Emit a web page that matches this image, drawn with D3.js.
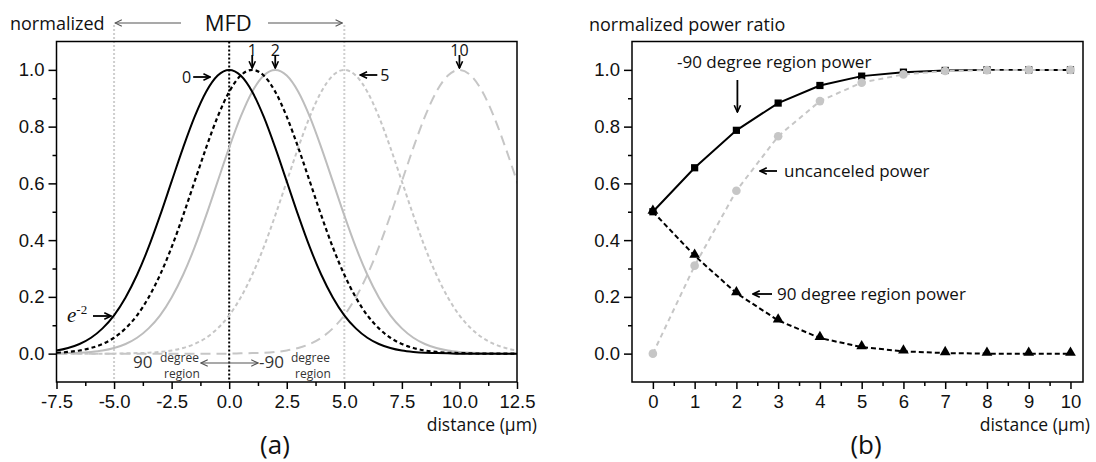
<!DOCTYPE html>
<html><head><meta charset="utf-8">
<script src="https://cdn.jsdelivr.net/npm/d3@7"></script>
<style>body{margin:0;background:#fff}svg{display:block}</style>
</head><body>
<script>
// ---------- DATA (a): normalized mode profile ----------
const profileOffsets = [-10,-9.5,-9,-8.5,-8,-7.5,-7,-6.5,-6,-5.5,-5,-4.5,-4,-3.5,-3,-2.5,-2,-1.5,-1,-0.5,0,0.5,1,1.5,2,2.5,3,3.5,4,4.5,5,5.5,6,6.5,7,7.5,8,8.5,9,9.5,10];
const profileValues  = [0.000,0.001,0.002,0.003,0.006,0.011,0.020,0.034,0.056,0.089,0.135,0.198,0.278,0.375,0.487,0.607,0.726,0.835,0.923,0.980,1.000,0.980,0.923,0.835,0.726,0.607,0.487,0.375,0.278,0.198,0.135,0.089,0.056,0.034,0.020,0.011,0.006,0.003,0.002,0.001,0.000];
const curveCenters = [0, 1, 2, 5, 10];
const curveLabels  = ["0", "1", "2", "5", "10"];
const mfdBounds = [-5, 5];
const leftXTicks = [-7.5,-5,-2.5,0,2.5,5,7.5,10,12.5];
const leftXMinor = [-6.25,-3.75,-1.25,1.25,3.75,6.25,8.75,11.25];
const yTicks = [0,0.2,0.4,0.6,0.8,1.0];
const yMinor = [0.1,0.3,0.5,0.7,0.9];

// ---------- DATA (b): power ratios ----------
const distance = [0,1,2,3,4,5,6,7,8,9,10];
const minus90Power    = [0.500,0.655,0.787,0.883,0.945,0.978,0.992,0.998,1.000,1.000,1.000];
const plus90Power     = [0.500,0.345,0.213,0.117,0.055,0.023,0.008,0.002,0.000,0.000,0.000];
const uncanceledPower = [0.000,0.310,0.574,0.766,0.890,0.955,0.984,0.996,0.999,1.000,1.000];
const rightXTicks = [0,1,2,3,4,5,6,7,8,9,10];
const rightXMinor = [0.5,1.5,2.5,3.5,4.5,5.5,6.5,7.5,8.5,9.5];

// ---------- styles ----------
const curveStyles = [
  {stroke:"#000", dash:null, w:2},
  {stroke:"#000", dash:"4,3", w:2.2},
  {stroke:"#bdbdbd", dash:null, w:2},
  {stroke:"#c6c6c6", dash:"4,3", w:2},
  {stroke:"#c6c6c6", dash:"10,6", w:2}
];
const TXT = "'Open Sans', 'Noto Sans', sans-serif";
const NUM = "'Liberation Sans', Arial, sans-serif";
const fmt1 = d => d3.format(".1f")(d).replace("\u2212", "-");
const fmt0 = d => String(d);

const W = 1096, H = 462;
const svg = d3.select("body").append("svg").attr("width", W).attr("height", H);
svg.append("rect").attr("width", W).attr("height", H).attr("fill", "#fff");

const defs = svg.append("defs");
function mk(id, color, sw){
  defs.append("marker").attr("id", id).attr("viewBox","0 0 10 10").attr("refX",9).attr("refY",5)
    .attr("markerWidth",9).attr("markerHeight",9).attr("markerUnits","userSpaceOnUse")
    .attr("orient","auto-start-reverse")
    .append("path").attr("d","M1.5,1.5 L9,5 L1.5,8.5").attr("fill","none")
    .attr("stroke",color).attr("stroke-width",sw);
}
mk("ab","#000",1.8); mk("ag","#555",1.2);

// ---------- scales ----------
const PT = 41.5, PB = 382;
const xL = d3.scaleLinear().domain([-7.5,12.5]).range([56.5,517]);
const yL = d3.scaleLinear().domain([-0.1,1.1]).range([PB,PT]);
const xR = d3.scaleLinear().domain([-0.5,10.3]).range([632,1083]);
const yR = d3.scaleLinear().domain([-0.1,1.1]).range([PB,PT]);

function drawAxes(g, x, y, xt, xm, fmtX){
  const [x0,x1] = x.range();
  const ax = g.append("g").attr("transform",`translate(0,${PB})`)
    .call(d3.axisBottom(x).tickValues(xt).tickSize(7).tickPadding(6).tickFormat(fmtX));
  const axm = g.append("g").attr("transform",`translate(0,${PB})`)
    .call(d3.axisBottom(x).tickValues(xm).tickSize(4).tickFormat(""));
  const ay = g.append("g").attr("transform",`translate(${x0},0)`)
    .call(d3.axisLeft(y).tickValues(yTicks).tickSize(8).tickPadding(4).tickFormat(fmt1));
  const aym = g.append("g").attr("transform",`translate(${x0},0)`)
    .call(d3.axisLeft(y).tickValues(yMinor).tickSize(4).tickFormat(""));
  [ax,axm,ay,aym].forEach(a=>{
    a.select(".domain").remove();
    a.selectAll("line").attr("stroke","#000").attr("stroke-width",1.5);
    a.selectAll("text").attr("font-family",NUM).attr("font-size",18.5).attr("fill","#111");
  });
  g.append("rect").attr("x",x0).attr("y",PT).attr("width",x1-x0).attr("height",PB-PT)
    .attr("fill","none").attr("stroke","#000").attr("stroke-width",1.5);
}

// ================= PANEL (a) =================
const ga = svg.append("g");
defs.append("clipPath").attr("id","clipA").append("rect")
  .attr("x",xL(-7.5)).attr("y",PT).attr("width",xL(12.5)-xL(-7.5)).attr("height",PB-PT);

// MFD dotted guides
mfdBounds.forEach(b=>{
  ga.append("line").attr("x1",xL(b)).attr("x2",xL(b)).attr("y1",25).attr("y2",PB)
    .attr("stroke","#cfcfcf").attr("stroke-width",2).attr("stroke-dasharray","2,2");
});
// center dotted line
ga.append("line").attr("x1",xL(0)).attr("x2",xL(0)).attr("y1",PT).attr("y2",PB)
  .attr("stroke","#000").attr("stroke-width",2).attr("stroke-dasharray","2,2");

const lineA = d3.line().x(d=>xL(d[0])).y(d=>yL(d[1])).curve(d3.curveMonotoneX);
const curvesG = ga.append("g").attr("clip-path","url(#clipA)");
curveCenters.slice().reverse().forEach((c, ri)=>{
  const i = curveCenters.length-1-ri;
  let pts = profileOffsets.map((o,k)=>[c+o, profileValues[k]]);
  if (pts[0][0] > -7.5) pts.unshift([-7.5, 0]);
  if (pts[pts.length-1][0] < 12.5) pts.push([12.5, 0]);
  const s = curveStyles[i];
  curvesG.append("path").attr("d", lineA(pts)).attr("fill","none")
    .attr("stroke", s.stroke).attr("stroke-width", s.w)
    .attr("stroke-dasharray", s.dash);
});

drawAxes(ga, xL, yL, leftXTicks, leftXMinor, fmt1);

// top annotations
ga.append("text").attr("x",10).attr("y",30).text("normalized")
  .attr("font-family",TXT).attr("font-size",18).attr("fill","#111");
ga.append("text").attr("x",(xL(-5)+xL(5))/2 - 1).attr("y",31).attr("text-anchor","middle").text("MFD")
  .attr("font-family",TXT).attr("font-size",22).attr("fill","#111");
ga.append("line").attr("x1",181).attr("x2",xL(-5)+1).attr("y1",23).attr("y2",23)
  .attr("stroke","#555").attr("stroke-width",1.2).attr("marker-end","url(#ag)");
ga.append("line").attr("x1",268).attr("x2",xL(5)-2).attr("y1",23).attr("y2",23)
  .attr("stroke","#555").attr("stroke-width",1.2).attr("marker-end","url(#ag)");

// curve labels
function lbl(g, x, y, t, anchor, size){
  g.append("text").attr("x",x).attr("y",y).attr("text-anchor",anchor||"middle").text(t)
    .attr("font-family",TXT).attr("font-size",size||16).attr("fill","#111");
}
function arr(g, x1, y1, x2, y2, grey){
  g.append("line").attr("x1",x1).attr("y1",y1).attr("x2",x2).attr("y2",y2)
    .attr("stroke", grey ? "#555" : "#000").attr("stroke-width", grey ? 1.2 : 1.8)
    .attr("marker-end", grey ? "url(#ag)" : "url(#ab)");
}
// "0 →"
lbl(ga, xL(0)-38, 83, curveLabels[0], "end");
arr(ga, xL(0)-36, 77, xL(0)-19, 77);
// "1", "2", "10" with down arrows
[1,2,4].forEach(i=>{
  const c = curveCenters[i];
  lbl(ga, xL(c), 56, curveLabels[i]);
  arr(ga, xL(c), 55, xL(c), 68);
});
// "← 5"
arr(ga, xL(5)+33, 75, xL(5)+16, 75);
lbl(ga, xL(5)+36, 81, curveLabels[3], "start");

// e^-2 label
const et = ga.append("text").attr("x",67).attr("y",322).attr("fill","#111");
et.append("tspan").text("e").attr("font-family","'Liberation Serif', serif").attr("font-style","italic").attr("font-size",21);
et.append("tspan").text("-2").attr("dy",-8).attr("font-family","'Liberation Serif', serif").attr("font-size",13);
arr(ga, 93, 316, xL(-5)-3, 316);

// bottom region annotations
function regionLabel(g, x, num){
  g.append("text").attr("x",x).attr("y",368).text(num)
    .attr("font-family",TXT).attr("font-size",17).attr("fill","#333");
  const w = num.length === 2 ? 19 : 24;
  g.append("text").attr("x",x+w+8).attr("y",362).text("degree")
    .attr("font-family",TXT).attr("font-size",12).attr("fill","#333");
  g.append("text").attr("x",x+w+12).attr("y",378).text("region")
    .attr("font-family",TXT).attr("font-size",12).attr("fill","#333");
}
regionLabel(ga, 133, "90");
regionLabel(ga, 259, "-90");
ga.append("line").attr("x1",201).attr("x2",258).attr("y1",363).attr("y2",363)
  .attr("stroke","#555").attr("stroke-width",1.2)
  .attr("marker-start","url(#ag)").attr("marker-end","url(#ag)");

ga.append("text").attr("x",537).attr("y",431).attr("text-anchor","end").text("distance (µm)")
  .attr("font-family",TXT).attr("font-size",17.5).attr("fill","#111");
ga.append("text").attr("x",275).attr("y",454).attr("text-anchor","middle").text("(a)")
  .attr("font-family",TXT).attr("font-size",26).attr("fill","#111");

// ================= PANEL (b) =================
const gb = svg.append("g");
drawAxes(gb, xR, yR, rightXTicks, rightXMinor, fmt0);

const lineB = d3.line().x(d=>xR(d[0])).y(d=>yR(d[1]));
const p90 = distance.map((d,i)=>[d, plus90Power[i]]);
const m90 = distance.map((d,i)=>[d, minus90Power[i]]);
const unc = distance.map((d,i)=>[d, uncanceledPower[i]]);

gb.append("path").attr("d",lineB(p90)).attr("fill","none").attr("stroke","#000")
  .attr("stroke-width",2).attr("stroke-dasharray","5,3");
gb.selectAll(".tri").data(p90).join("path").attr("class","tri")
  .attr("transform",d=>`translate(${xR(d[0])},${yR(d[1])-1})`)
  .attr("d", d3.symbol(d3.symbolTriangle).size(50)()).attr("fill","#000");

gb.append("path").attr("d",lineB(m90)).attr("fill","none").attr("stroke","#000").attr("stroke-width",2);
gb.selectAll(".sq").data(m90).join("path").attr("class","sq")
  .attr("transform",d=>`translate(${xR(d[0])},${yR(d[1])})`)
  .attr("d", d3.symbol(d3.symbolSquare).size(52)()).attr("fill","#000");

gb.append("path").attr("d",lineB(unc)).attr("fill","none").attr("stroke","#c6c6c6")
  .attr("stroke-width",2).attr("stroke-dasharray","5,4");
gb.selectAll(".ci").data(unc).join("circle").attr("class","ci")
  .attr("cx",d=>xR(d[0])).attr("cy",d=>yR(d[1])).attr("r",4.3).attr("fill","#c6c6c6");

// annotations
gb.append("text").attr("x",589).attr("y",31).text("normalized power ratio")
  .attr("font-family",TXT).attr("font-size",18).attr("fill","#111");
gb.append("text").attr("x",677).attr("y",68).text("-90 degree region power")
  .attr("font-family",TXT).attr("font-size",17).attr("fill","#111");
arr(gb, xR(2)+1, 80, xR(2)+1, 112);
arr(gb, 777, 171, 760, 171);
gb.append("text").attr("x",784).attr("y",177).text("uncanceled power")
  .attr("font-family",TXT).attr("font-size",17).attr("fill","#111");
arr(gb, 772, 294, 753, 294);
gb.append("text").attr("x",777).attr("y",300).text("90 degree region power")
  .attr("font-family",TXT).attr("font-size",17).attr("fill","#111");

gb.append("text").attr("x",1090).attr("y",431).attr("text-anchor","end").text("distance (µm)")
  .attr("font-family",TXT).attr("font-size",17.5).attr("fill","#111");
gb.append("text").attr("x",866).attr("y",454).attr("text-anchor","middle").text("(b)")
  .attr("font-family",TXT).attr("font-size",26).attr("fill","#111");
</script>
</body></html>
